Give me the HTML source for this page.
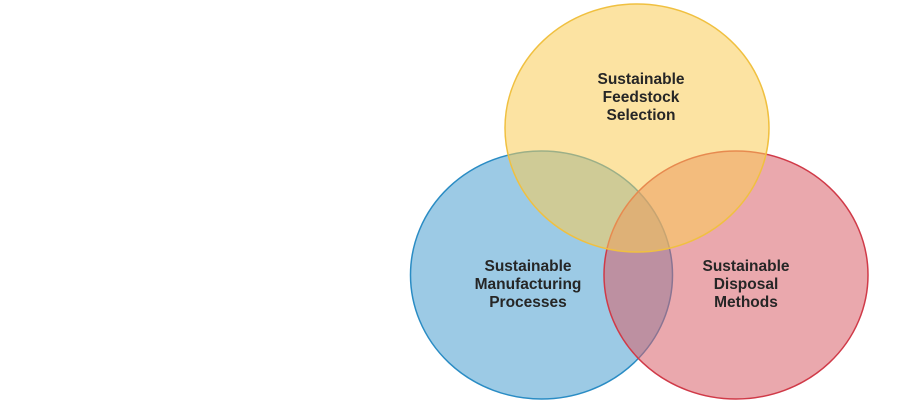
<!DOCTYPE html>
<html><head><style>html,body{margin:0;padding:0;background:#fff;width:900px;height:400px;overflow:hidden}</style></head>
<body>
<svg width="900" height="400" xmlns="http://www.w3.org/2000/svg">
<g fill-opacity="0.55" stroke-width="1.5">
<ellipse cx="541.5" cy="275" rx="131" ry="124" fill="#4a9fd0" stroke="#2a8cc4"/>
<ellipse cx="736" cy="275" rx="132" ry="124" fill="#d9606a" stroke="#d03a48"/>
<ellipse cx="637" cy="128" rx="132" ry="124" fill="#f9cc55" stroke="#f0c040"/>
</g>
<g font-family="Liberation Sans, sans-serif" font-weight="bold" font-size="15.5" fill="#262626" text-anchor="middle">
<text x="641" y="84">Sustainable</text>
<text x="641" y="102">Feedstock</text>
<text x="641" y="120">Selection</text>
<text x="528" y="271">Sustainable</text>
<text x="528" y="289">Manufacturing</text>
<text x="528" y="307">Processes</text>
<text x="746" y="271">Sustainable</text>
<text x="746" y="289">Disposal</text>
<text x="746" y="307">Methods</text>
</g>
</svg>
</body></html>
